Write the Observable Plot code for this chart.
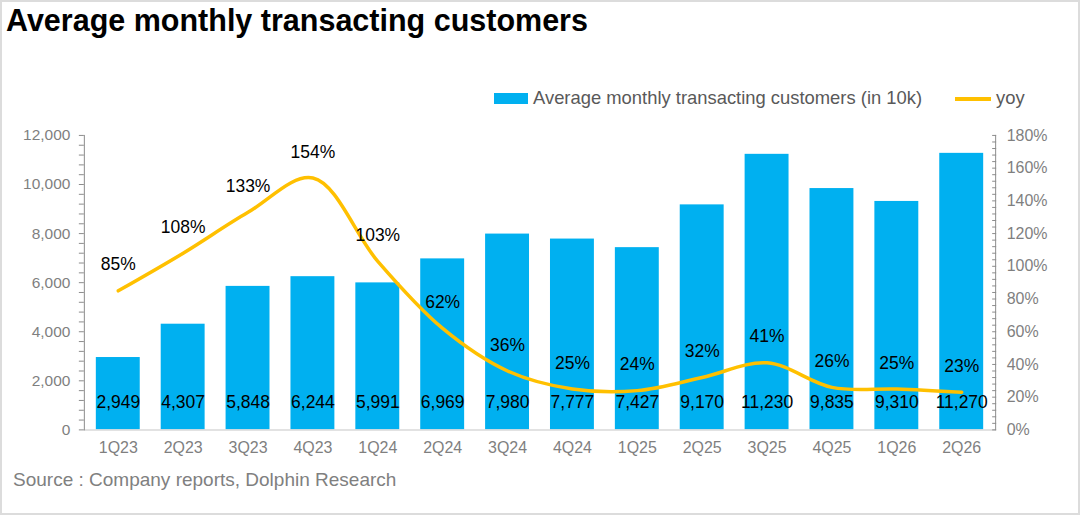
<!DOCTYPE html>
<html>
<head>
<meta charset="utf-8">
<script src="https://cdn.jsdelivr.net/npm/d3@7"></script>
<script src="https://cdn.jsdelivr.net/npm/@observablehq/plot@0.6"></script>
<style>
  html, body { margin: 0; padding: 0; background: #fff; }
  #wrap { position: relative; width: 1080px; height: 515px; box-sizing: border-box; border: 2px solid #dcdcdc; overflow: hidden; font-family: "Liberation Sans", Arial, sans-serif; }
  #title { position: absolute; left: 4px; top: 0px; font-size: 30.5px; font-weight: bold; color: #000; line-height: 36px; white-space: nowrap; }
  #legend { position: absolute; top: 85px; left: 0; width: 100%; height: 24px; font-size: 18.4px; color: #595959; }
  .sw { position: absolute; }
  .lt { position: absolute; top: 0; line-height: 22px; white-space: nowrap; }
  #source { position: absolute; left: 11px; top: 467px; font-size: 19px; color: #808080; white-space: nowrap; }
  #chart { position: absolute; left: -2px; top: 98px; }
</style>
</head>
<body>
<div id="wrap">
  <div id="title">Average monthly transacting customers</div>
  <div id="legend">
    <div class="sw" style="left:492px; top:6px; width:34px; height:11px; background:#00B0F0;"></div>
    <div class="lt" style="left:531px;">Average monthly transacting customers (in 10k)</div>
    <div class="sw" style="left:953px; top:10px; width:36px; height:3.5px; background:#FFC000;"></div>
    <div class="lt" style="left:994px;">yoy</div>
  </div>
  <div id="chart"></div>
  <div id="source">Source : Company reports, Dolphin Research</div>
</div>
<script>
const quarters = ["1Q23","2Q23","3Q23","4Q23","1Q24","2Q24","3Q24","4Q24","1Q25","2Q25","3Q25","4Q25","1Q26","2Q26"];
const customers = [2949,4307,5848,6244,5991,6969,7980,7777,7427,9170,11230,9835,9310,11270];
const yoyPct = [85,108,133,154,103,62,36,25,24,32,41,26,25,23];
const leftMax = 12000;
const rightMax = 180;
const leftMajor = [0,2000,4000,6000,8000,10000,12000];
const rightMajor = [0,20,40,60,80,100,120,140,160,180];

const data = quarters.map((q, i) => ({
  q,
  v: customers[i],
  yy: yoyPct[i] * leftMax / rightMax,
  vLabel: d3.format(",")(customers[i]),
  yLabel: yoyPct[i] + "%"
}));

const leftMinor = d3.range(0, leftMax + 1, 400);
const rightMinor = d3.range(0, 46).map(i => i * leftMax / 45);
const toPct = d => Math.round(d * rightMax / leftMax);

const chart = Plot.plot({
  width: 1080,
  height: 362,
  marginTop: 35,
  marginBottom: 32,
  marginLeft: 84,
  marginRight: 83,
  x: { domain: quarters, paddingInner: 0.32, paddingOuter: 0.16, label: null },
  y: { domain: [0, leftMax], label: null },
  style: { fontFamily: "Liberation Sans, Arial, sans-serif", fontSize: "16px", color: "#7f7f7f", background: "transparent", overflow: "visible" },
  marks: [
    Plot.barY(data, { x: "q", y: "v", fill: "#00B0F0" }),
    Plot.ruleY([0], { stroke: "#d9d9d9", strokeWidth: 1.5 }),
    Plot.axisX({ tickSize: 0, tickPadding: 12, fill: "#7f7f7f", fontSize: 16 }),
    Plot.axisY({ anchor: "left", ticks: leftMinor, tickSize: 5, tickPadding: 9, stroke: "#8c8c8c", fill: "#7f7f7f", fontSize: 15.5,
      tickFormat: d => (leftMajor.includes(d) ? d3.format(",")(d) : "") }),
    Plot.axisY({ anchor: "right", ticks: rightMinor, tickSize: 4, dx: -4, stroke: "#8c8c8c", tickFormat: () => "" }),
    Plot.axisY({ anchor: "right", ticks: rightMinor, tickSize: 0, tickPadding: 11, fill: "#7f7f7f", fontSize: 16,
      tickFormat: d => (rightMajor.includes(toPct(d)) && Math.abs(d - toPct(d) * leftMax / rightMax) < 1 ? toPct(d) + "%" : "") }),
    Plot.frame({ anchor: "left", stroke: "#8c8c8c" }),
    Plot.frame({ anchor: "right", stroke: "#8c8c8c" }),
    Plot.line(data, { x: "q", y: "yy", stroke: "#FFC000", strokeWidth: 3.5, curve: "catmull-rom" }),
    Plot.text(data, { x: "q", y: 0, text: "vLabel", dy: -28, fill: "#000", fontSize: 17.5 }),
    Plot.text(data, { x: "q", y: "yy", text: "yLabel", dy: -26, fill: "#000", fontSize: 17.5 })
  ]
});
document.getElementById("chart").appendChild(chart);
</script>
</body>
</html>
